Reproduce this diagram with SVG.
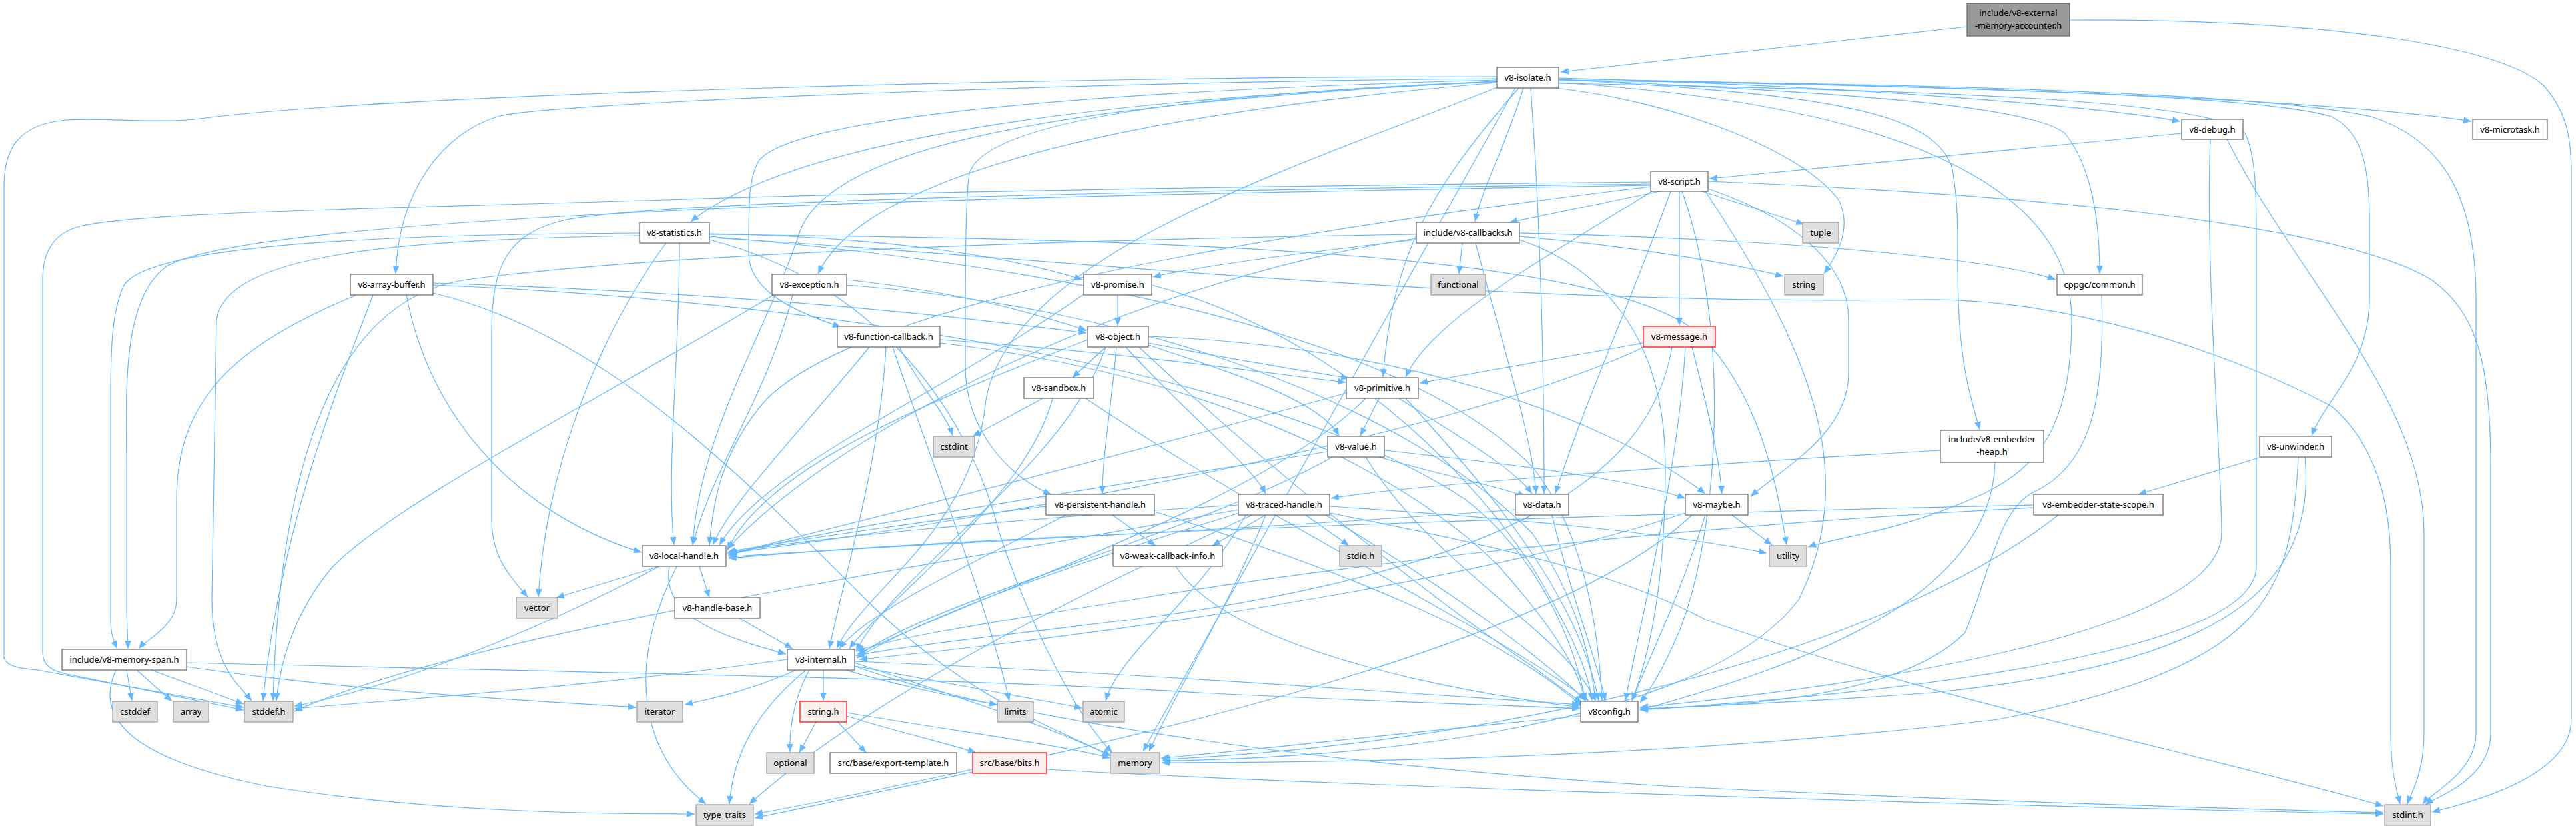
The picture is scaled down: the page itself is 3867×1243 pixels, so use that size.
<svg xmlns="http://www.w3.org/2000/svg" width="3867" height="1243" viewBox="0 0 3867 1243">
<style>
.bg{fill:#fff}
rect.n{fill:#fff;stroke:#666;stroke-width:1.2}
rect.g{fill:#e0e0e0;stroke:#999;stroke-width:1.2}
rect.r{fill:#fff0f0;stroke:#f00;stroke-width:1.2}
rect.root{fill:#999;stroke:#666;stroke-width:1.2}
text{font-family:"Noto Sans","DejaVu Sans",sans-serif;font-size:13px;fill:#000;text-anchor:middle}
#edges path{fill:none;stroke:#63b8ff;stroke-width:1.2;marker-end:url(#ah)}
</style>
<defs>
<marker id="ah" viewBox="0 0 12 10" refX="12" refY="5" markerWidth="12" markerHeight="10" markerUnits="userSpaceOnUse" orient="auto">
<path d="M0,0 L12,5 L0,10 z" fill="#63b8ff"/>
</marker>
</defs>
<rect class="bg" x="0" y="0" width="3867" height="1243"/>
<g id="edges">
<path d="M2953,40 L2343,108"/>
<path d="M3107,30 C3500,28 3760,70 3820,130 C3850,165 3860,200 3860,260 L3860,1080 C3860,1160 3730,1200 3651,1219"/>
<path d="M2247,115 C1600,115 600,140 300,178 C240,186 150,176 100,180 C30,186 6,220 6,280 L6,985 C6,1000 30,1004 56,1006 L366,1062"/>
<path d="M2340,121 C2900,125 3400,140 3560,175 C3670,210 3717,300 3717,450 L3717,1100 C3717,1160 3650,1190 3637,1207"/>
<path d="M2275,132 C2150,350 1900,800 1716,1128"/>
<path d="M2335,132 C2500,150 2700,220 2760,300 C2780,340 2760,380 2738,411"/>
<path d="M2340,124 C2900,160 3110,300 3110,480 C3110,640 3060,700 2980,740 C2850,800 2760,805 2714,821"/>
<path d="M2340,119 C2800,140 3050,160 3100,200 C3140,250 3152,330 3152,411"/>
<path d="M2247,118 C1700,122 900,150 760,172 C690,185 600,260 594,411"/>
<path d="M2287,132 C2260,220 2225,280 2214,333"/>
<path d="M2298,132 C2310,300 2318,500 2318,741"/>
<path d="M2340,117 C2800,130 3150,160 3273,182"/>
<path d="M2340,119 C2700,140 2900,160 2930,250 C2940,300 2939,350 2939,400 C2939,550 2960,600 2972,645"/>
<path d="M2247,124 C1700,170 1300,260 1228,411"/>
<path d="M2247,120 C1700,135 1200,170 1140,240 C1124,265 1124,300 1124,380 C1124,440 1200,470 1262,491"/>
<path d="M2250,130 C1950,250 1520,380 1480,600 C1460,800 1300,880 1256,974"/>
<path d="M2247,122 C1700,150 1250,200 1200,350 C1150,500 1050,650 1040,818"/>
<path d="M2340,118 C3000,130 3500,150 3710,182"/>
<path d="M2247,122 C1800,140 1480,180 1455,260 C1449,300 1449,400 1449,550 C1449,650 1520,720 1578,742"/>
<path d="M2280,132 C2150,280 2090,380 2076,566"/>
<path d="M2247,123 C1700,145 1200,200 1037,333"/>
<path d="M2340,120 C3000,130 3400,145 3500,175 C3550,200 3557,260 3557,330 L3557,450 C3557,550 3490,600 3470,654"/>
<path d="M2340,125 C2900,135 3330,150 3370,200 C3385,230 3387,280 3387,350 L3387,850 C3387,960 3000,1030 2462,1066"/>
<path d="M3343,209 C3450,420 3639,600 3639,800 L3639,1100 C3639,1160 3620,1190 3614,1207"/>
<path d="M3275,200 L2566,268"/>
<path d="M3318,209 C3310,400 3335,700 3335,800 C3335,950 2800,1030 2462,1062"/>
<path d="M2478,273 C1800,280 1300,290 1000,300 C500,315 200,320 120,340 C80,350 64,380 64,420 L64,980 C64,1000 80,1008 100,1012 L366,1066"/>
<path d="M2564,272 C3000,290 3500,330 3650,420 C3720,470 3739,550 3739,700 L3739,1100 C3739,1170 3660,1195 3641,1208"/>
<path d="M2560,287 C2700,500 2800,700 2700,900 C2550,1100 2000,1140 1745,1142"/>
<path d="M2555,287 L2708,337"/>
<path d="M2478,276 C1800,285 1000,300 850,330 C760,350 738,400 738,500 L738,780 C738,840 770,870 792,896"/>
<path d="M2492,287 L2266,334"/>
<path d="M2508,287 C2450,450 2380,600 2335,741"/>
<path d="M2478,280 C1900,350 1300,450 1150,600 C1080,680 1070,760 1065,818"/>
<path d="M2564,283 C2700,330 2775,400 2775,480 L2775,560 C2775,650 2680,700 2628,745"/>
<path d="M2478,278 C1800,290 400,310 250,400 C180,450 190,600 190,700 L190,900 C190,940 192,960 192,974"/>
<path d="M2521,287 L2521,489"/>
<path d="M2480,287 C2300,400 2150,480 2110,566"/>
<path d="M2525,287 C2600,500 2580,800 2520,950 C2490,1020 2470,1045 2462,1055"/>
<path d="M2126,352 C1600,360 1000,380 700,420 C500,450 420,700 410,1052"/>
<path d="M2195,365 L2190,411"/>
<path d="M2281,355 C2450,370 2600,395 2677,415"/>
<path d="M2281,350 C2700,360 3000,390 3086,420"/>
<path d="M2215,365 C2250,500 2300,650 2306,741"/>
<path d="M2126,358 C1700,420 1250,650 1092,824"/>
<path d="M2126,360 C1950,380 1800,400 1731,416"/>
<path d="M2281,360 C2400,400 2500,500 2500,700 C2500,900 2470,1000 2450,1052"/>
<path d="M960,354 C600,360 340,380 325,480 L318,900 C318,1000 360,1030 378,1052"/>
<path d="M960,350 C600,352 220,365 185,430 C168,470 166,520 166,600 L166,930 C166,955 172,965 176,974"/>
<path d="M1065,357 C1500,380 2200,460 2877,450 C3100,445 3350,530 3500,610 C3570,670 3589,760 3589,850 L3589,1100 C3589,1160 3598,1185 3603,1207"/>
<path d="M1065,360 C1300,420 1450,600 1500,800 C1550,950 1620,1080 1670,1130"/>
<path d="M1065,352 C1800,360 2400,380 2550,500 C2650,600 2670,750 2682,818"/>
<path d="M1000,365 C900,500 820,700 808,896"/>
<path d="M1020,365 C1020,550 1000,700 1012,818"/>
<path d="M1065,351 C1300,355 1500,380 1625,420"/>
<path d="M1065,355 C1600,400 2100,500 2300,700 C2380,800 2400,950 2405,1052"/>
<path d="M560,443 C500,600 420,800 395,1052"/>
<path d="M650,440 C900,500 1100,700 1300,900 C1450,1050 1600,1100 1668,1135"/>
<path d="M610,443 C650,650 800,780 963,829"/>
<path d="M535,443 C350,520 265,600 265,750 L265,900 C265,940 220,960 208,974"/>
<path d="M650,425 C1100,440 1400,470 1631,500"/>
<path d="M650,428 C1200,450 1900,550 2200,750 C2330,850 2370,1000 2380,1052"/>
<path d="M1161,443 C900,600 600,750 500,850 C440,920 420,1000 415,1052"/>
<path d="M1190,443 C1150,600 1070,700 1040,818"/>
<path d="M1271,420 C1450,440 1550,470 1631,496"/>
<path d="M1271,428 C1700,460 2100,600 2300,800 C2370,900 2390,1000 2395,1052"/>
<path d="M1630,440 C1400,600 1150,700 1080,818"/>
<path d="M1678,443 L1678,489"/>
<path d="M1729,428 C2000,500 2200,700 2300,850 C2360,950 2385,1010 2390,1052"/>
<path d="M3155,443 C3160,600 3140,700 3050,740 C3000,770 2990,850 2950,950 C2850,1050 2600,1060 2462,1064"/>
<path d="M1350,521 C1380,580 1420,620 1430,654"/>
<path d="M1340,521 C1400,700 1480,900 1515,1052"/>
<path d="M1330,521 C1320,700 1270,850 1245,974"/>
<path d="M1305,521 C1200,650 1100,750 1070,818"/>
<path d="M1411,510 C1700,530 1900,560 2020,574"/>
<path d="M1411,515 C1800,560 2100,700 2250,850 C2340,950 2370,1010 2380,1052"/>
<path d="M1660,521 C1600,700 1350,850 1285,978"/>
<path d="M1633,510 C1400,600 1150,700 1092,826"/>
<path d="M1724,505 C2100,520 2400,620 2560,741"/>
<path d="M1676,521 C1670,600 1655,680 1655,741"/>
<path d="M1724,515 C1850,540 1980,560 2025,568"/>
<path d="M1660,521 L1610,567"/>
<path d="M1690,521 C1780,620 1880,700 1900,741"/>
<path d="M1724,518 C1850,560 1980,600 2010,654"/>
<path d="M1710,521 C1900,700 2150,900 2300,1000 C2340,1030 2360,1045 2375,1055"/>
<path d="M2467,515 L2131,575"/>
<path d="M2470,520 C2200,650 1500,780 1095,830"/>
<path d="M2540,521 C2560,600 2580,680 2585,741"/>
<path d="M2510,521 C2480,700 2300,850 1700,930 C1450,960 1320,975 1285,985"/>
<path d="M2530,521 C2520,700 2470,900 2440,1052"/>
<path d="M1565,598 L1460,655"/>
<path d="M1580,598 C1540,750 1330,900 1275,974"/>
<path d="M1630,598 C1900,780 2250,950 2385,1052"/>
<path d="M2100,598 C2180,650 2270,700 2300,741"/>
<path d="M2050,598 C1900,750 1500,880 1287,982"/>
<path d="M2021,590 C1700,680 1300,780 1093,832"/>
<path d="M2070,598 L2042,654"/>
<path d="M2110,598 C2250,750 2370,900 2400,1052"/>
<path d="M2070,686 C2150,710 2250,730 2290,745"/>
<path d="M2000,686 C1800,800 1400,900 1288,985"/>
<path d="M1993,678 C1600,740 1200,800 1093,834"/>
<path d="M2078,676 C2300,700 2450,720 2530,748"/>
<path d="M2050,686 C2150,850 2350,950 2395,1052"/>
<path d="M2913,676 C2500,700 2100,730 1998,748"/>
<path d="M2995,694 C2990,900 2700,1000 2462,1066"/>
<path d="M3450,686 C3440,900 3400,1000 3000,1080 C2500,1140 2000,1145 1744,1145"/>
<path d="M3395,686 L3210,742"/>
<path d="M3460,686 C3480,900 3300,1000 2900,1040 C2700,1055 2550,1060 2462,1065"/>
<path d="M1600,773 C1450,850 1300,920 1260,974"/>
<path d="M1570,760 C1400,780 1200,810 1093,828"/>
<path d="M1670,773 L1735,819"/>
<path d="M1733,768 C2000,850 2250,950 2375,1060"/>
<path d="M1870,773 C1800,900 1680,980 1660,1052"/>
<path d="M1900,773 C1850,900 1760,1050 1725,1128"/>
<path d="M1859,765 C1400,850 700,950 442,1068"/>
<path d="M1996,770 C2300,830 2450,870 2560,930 C2900,1050 3300,1130 3578,1210"/>
<path d="M1960,773 L2025,819"/>
<path d="M1880,773 C1600,900 1300,1050 1125,1207"/>
<path d="M1996,760 C2300,780 2500,800 2652,830"/>
<path d="M1860,770 C1600,850 1400,920 1286,988"/>
<path d="M1859,758 C1500,780 1200,810 1092,830"/>
<path d="M1900,773 L1820,819"/>
<path d="M1990,773 C2200,900 2330,1000 2380,1052"/>
<path d="M2275,765 C1800,800 1300,820 1094,836"/>
<path d="M2330,773 C2360,900 2400,1000 2410,1052"/>
<path d="M2540,773 C2300,1000 1500,1150 1133,1228"/>
<path d="M2600,773 L2660,818"/>
<path d="M2530,770 C2200,880 1600,960 1290,990"/>
<path d="M2560,773 C2520,900 2470,1000 2450,1052"/>
<path d="M3090,773 C2800,1000 2200,1120 1745,1140"/>
<path d="M3053,762 C2500,790 2000,850 1700,900 C1450,940 1330,960 1286,978"/>
<path d="M3053,758 C2500,770 1500,800 1094,838"/>
<path d="M990,850 C800,950 600,1030 442,1060"/>
<path d="M1016,850 C940,1000 960,1130 1060,1207"/>
<path d="M990,850 L835,897"/>
<path d="M1050,850 L1065,897"/>
<path d="M1005,850 C990,930 1100,960 1180,982"/>
<path d="M1765,850 C1850,980 2200,1040 2372,1062"/>
<path d="M1110,928 L1190,974"/>
<path d="M227,1006 L366,1057"/>
<path d="M205,1006 L258,1053"/>
<path d="M190,1006 L198,1052"/>
<path d="M280,1001 C550,1040 800,1052 955,1062"/>
<path d="M174,1006 C140,1080 200,1140 400,1180 C650,1220 900,1222 1043,1222"/>
<path d="M280,995 C900,1010 1500,1020 1800,1040 C2100,1055 2300,1060 2372,1064"/>
<path d="M1182,990 C900,1030 600,1050 442,1064"/>
<path d="M1283,1000 C1500,1080 2000,1150 2500,1180 C3000,1205 3400,1215 3578,1220"/>
<path d="M1236,1006 L1236,1052"/>
<path d="M1283,1000 C1450,1030 1550,1050 1625,1063"/>
<path d="M1195,1006 C1120,1040 1060,1050 1028,1058"/>
<path d="M1270,1006 C1350,1030 1450,1050 1497,1058"/>
<path d="M1283,995 C1450,1050 1600,1100 1667,1135"/>
<path d="M1215,1006 C1190,1050 1185,1100 1186,1129"/>
<path d="M1210,1006 C1120,1080 1100,1150 1095,1207"/>
<path d="M1283,993 C1700,1010 2100,1040 2372,1058"/>
<path d="M1225,1084 L1200,1130"/>
<path d="M1258,1084 L1300,1130"/>
<path d="M1271,1075 C1350,1100 1420,1115 1465,1130"/>
<path d="M1271,1070 C1450,1100 1600,1120 1667,1138"/>
<path d="M1571,1155 C2000,1180 3000,1210 3578,1222"/>
<path d="M1460,1155 C1300,1190 1200,1210 1133,1222"/>
<path d="M2373,1075 C2100,1100 1900,1125 1743,1138"/>
</g>
<g id="n-ext"><rect class="root" x="2953" y="5" width="154" height="49"/><text x="3030" y="24">include/v8-external</text><text x="3030" y="43">-memory-accounter.h</text></g>
<g id="n-isolate"><rect class="n" x="2247" y="101" width="93" height="31"/><text x="2293.5" y="121">v8-isolate.h</text></g>
<g id="n-debug"><rect class="n" x="3275" y="179" width="92" height="30"/><text x="3321" y="198.5">v8-debug.h</text></g>
<g id="n-microtask"><rect class="n" x="3712" y="179" width="112" height="30"/><text x="3768" y="198.5">v8-microtask.h</text></g>
<g id="n-script"><rect class="n" x="2478" y="257" width="86" height="30"/><text x="2521" y="276.5">v8-script.h</text></g>
<g id="n-statistics"><rect class="n" x="960" y="334" width="105" height="31"/><text x="1012.5" y="354">v8-statistics.h</text></g>
<g id="n-callbacks"><rect class="n" x="2126" y="334" width="155" height="31"/><text x="2203.5" y="354">include/v8-callbacks.h</text></g>
<g id="n-tuple"><rect class="g" x="2706" y="334" width="54" height="31"/><text x="2733" y="354">tuple</text></g>
<g id="n-arraybuffer"><rect class="n" x="526" y="412" width="124" height="31"/><text x="588" y="432">v8-array-buffer.h</text></g>
<g id="n-exception"><rect class="n" x="1159" y="412" width="112" height="31"/><text x="1215" y="432">v8-exception.h</text></g>
<g id="n-promise"><rect class="n" x="1627" y="412" width="102" height="31"/><text x="1678" y="432">v8-promise.h</text></g>
<g id="n-functional"><rect class="g" x="2148" y="412" width="82" height="31"/><text x="2189" y="432">functional</text></g>
<g id="n-string"><rect class="g" x="2679" y="412" width="58" height="31"/><text x="2708" y="432">string</text></g>
<g id="n-cppgc"><rect class="n" x="3088" y="412" width="128" height="31"/><text x="3152" y="432">cppgc/common.h</text></g>
<g id="n-funccb"><rect class="n" x="1257" y="490" width="154" height="31"/><text x="1334" y="510">v8-function-callback.h</text></g>
<g id="n-object"><rect class="n" x="1633" y="490" width="91" height="31"/><text x="1678.5" y="510">v8-object.h</text></g>
<g id="n-message"><rect class="r" x="2467" y="490" width="108" height="31"/><text x="2521" y="510">v8-message.h</text></g>
<g id="n-sandbox"><rect class="n" x="1537" y="567" width="105" height="31"/><text x="1589.5" y="587">v8-sandbox.h</text></g>
<g id="n-primitive"><rect class="n" x="2021" y="567" width="108" height="31"/><text x="2075" y="587">v8-primitive.h</text></g>
<g id="n-cstdint"><rect class="g" x="1401" y="655" width="62" height="31"/><text x="1432" y="675">cstdint</text></g>
<g id="n-value"><rect class="n" x="1993" y="655" width="85" height="31"/><text x="2035.5" y="675">v8-value.h</text></g>
<g id="n-embedderheap"><rect class="n" x="2913" y="646" width="155" height="48"/><text x="2990.5" y="664">include/v8-embedder</text><text x="2990.5" y="683">-heap.h</text></g>
<g id="n-unwinder"><rect class="n" x="3392" y="655" width="108" height="31"/><text x="3446" y="675">v8-unwinder.h</text></g>
<g id="n-persistent"><rect class="n" x="1570" y="742" width="163" height="31"/><text x="1651.5" y="762">v8-persistent-handle.h</text></g>
<g id="n-traced"><rect class="n" x="1859" y="742" width="137" height="31"/><text x="1927.5" y="762">v8-traced-handle.h</text></g>
<g id="n-data"><rect class="n" x="2275" y="742" width="80" height="31"/><text x="2315" y="762">v8-data.h</text></g>
<g id="n-maybe"><rect class="n" x="2530" y="742" width="94" height="31"/><text x="2577" y="762">v8-maybe.h</text></g>
<g id="n-statescope"><rect class="n" x="3053" y="742" width="194" height="31"/><text x="3150" y="762">v8-embedder-state-scope.h</text></g>
<g id="n-localhandle"><rect class="n" x="964" y="819" width="126" height="31"/><text x="1027" y="839">v8-local-handle.h</text></g>
<g id="n-weakcb"><rect class="n" x="1671" y="819" width="164" height="31"/><text x="1753" y="839">v8-weak-callback-info.h</text></g>
<g id="n-stdio"><rect class="g" x="2011" y="819" width="63" height="31"/><text x="2042.5" y="839">stdio.h</text></g>
<g id="n-utility"><rect class="g" x="2656" y="819" width="56" height="31"/><text x="2684" y="839">utility</text></g>
<g id="n-vector"><rect class="g" x="775" y="897" width="62" height="31"/><text x="806" y="917">vector</text></g>
<g id="n-handlebase"><rect class="n" x="1013" y="897" width="128" height="31"/><text x="1077" y="917">v8-handle-base.h</text></g>
<g id="n-memoryspan"><rect class="n" x="93" y="975" width="187" height="31"/><text x="186.5" y="995">include/v8-memory-span.h</text></g>
<g id="n-internal"><rect class="n" x="1182" y="975" width="101" height="31"/><text x="1232.5" y="995">v8-internal.h</text></g>
<g id="n-cstddef"><rect class="g" x="169" y="1053" width="67" height="31"/><text x="202.5" y="1073">cstddef</text></g>
<g id="n-array"><rect class="g" x="260" y="1053" width="53" height="31"/><text x="286.5" y="1073">array</text></g>
<g id="n-stddef"><rect class="g" x="367" y="1053" width="73" height="31"/><text x="403.5" y="1073">stddef.h</text></g>
<g id="n-iterator"><rect class="g" x="956" y="1053" width="69" height="31"/><text x="990.5" y="1073">iterator</text></g>
<g id="n-stringh"><rect class="r" x="1201" y="1053" width="70" height="31"/><text x="1236" y="1073">string.h</text></g>
<g id="n-limits"><rect class="g" x="1497" y="1053" width="54" height="31"/><text x="1524" y="1073">limits</text></g>
<g id="n-atomic"><rect class="g" x="1626" y="1053" width="62" height="31"/><text x="1657" y="1073">atomic</text></g>
<g id="n-v8config"><rect class="n" x="2373" y="1053" width="86" height="31"/><text x="2416" y="1073">v8config.h</text></g>
<g id="n-optional"><rect class="g" x="1151" y="1130" width="71" height="31"/><text x="1186.5" y="1150">optional</text></g>
<g id="n-exporttemplate"><rect class="n" x="1246" y="1130" width="190" height="31"/><text x="1341" y="1150">src/base/export-template.h</text></g>
<g id="n-bits"><rect class="r" x="1460" y="1130" width="111" height="31"/><text x="1515.5" y="1150">src/base/bits.h</text></g>
<g id="n-memory"><rect class="g" x="1667" y="1130" width="74" height="31"/><text x="1704" y="1150">memory</text></g>
<g id="n-typetraits"><rect class="g" x="1045" y="1208" width="86" height="31"/><text x="1088" y="1228">type_traits</text></g>
<g id="n-stdint"><rect class="g" x="3580" y="1208" width="69" height="31"/><text x="3614.5" y="1228">stdint.h</text></g>
</svg>
